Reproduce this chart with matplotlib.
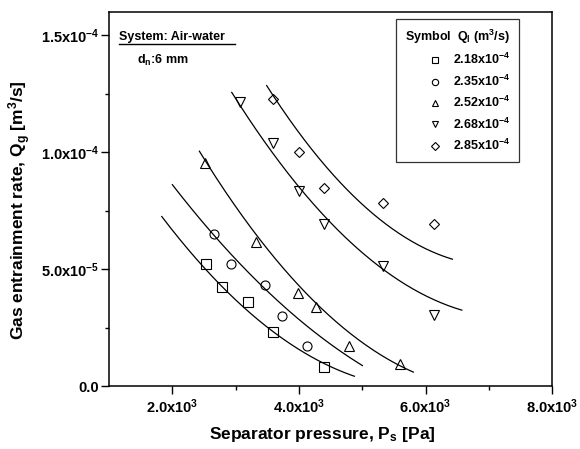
import numpy as np
import matplotlib
matplotlib.use('Agg')
import matplotlib.pyplot as plt
from matplotlib.ticker import FixedLocator, FixedFormatter

plt.rcParams['font.family'] = 'Liberation Sans'
plt.rcParams['font.weight'] = 'bold'
plt.rcParams['mathtext.fontset'] = 'custom'
plt.rcParams['mathtext.rm'] = 'Liberation Sans:bold'
plt.rcParams['mathtext.it'] = 'Liberation Sans:bold'
plt.rcParams['mathtext.bf'] = 'Liberation Sans:bold'
plt.rcParams['mathtext.default'] = 'rm'

# measured points: separator pressure [Pa] and gas entrainment rate [m3/s]
labels = ['2.18x10$^{-4}$', '2.35x10$^{-4}$', '2.52x10$^{-4}$', '2.68x10$^{-4}$', '2.85x10$^{-4}$']
markers = ['s', 'o', '^', 'v', 'D']

p_218 = [2528, 2790, 3191, 3596, 4397]
q_218 = [5.24e-5, 4.24e-5, 3.58e-5, 2.32e-5, 0.83e-5]
p_235 = [2654, 2927, 3464, 3728, 4128]
q_235 = [6.51e-5, 5.24e-5, 4.32e-5, 2.99e-5, 1.73e-5]
p_252 = [2517, 3322, 3991, 4265, 4796, 5597]
q_252 = [9.56e-5, 6.14e-5, 3.96e-5, 3.36e-5, 1.72e-5, 0.93e-5]
p_268 = [3070, 3596, 4002, 4397, 5333, 6139]
q_268 = [1.216e-4, 1.04e-4, 8.33e-5, 6.91e-5, 5.15e-5, 3.03e-5]
p_285 = [3596, 3997, 4401, 5333, 6139]
q_285 = [1.226e-4, 1.001e-4, 8.48e-5, 7.82e-5, 6.91e-5]

# points
fp_218 = [1833, 2790, 3596, 4017, 4875]
fq_218 = [7.25e-5, 4.24e-5, 2.32e-5, 1.53e-5, 0.42e-5]
fp_235 = [2000, 2174, 2652, 3460, 4017, 4175, 5002]
fq_235 = [8.63e-5, 7.94e-5, 6.51e-5, 4.32e-5, 2.67e-5, 2.40e-5, 0.93e-5]
fp_252 = [2427, 2527, 2937, 3159, 4017, 4175, 5597, 5807]
fq_252 = [1.012e-4, 9.52e-5, 7.94e-5, 7.08e-5, 4.22e-5, 3.79e-5, 0.98e-5, 0.50e-5]
fp_268 = [2938, 3057, 3859, 4002, 4175, 4465, 4833, 5333, 6071, 6572]
fq_268 = [1.259e-4, 1.216e-4, 8.94e-5, 8.30e-5, 7.87e-5, 7.08e-5, 6.22e-5, 5.12e-5, 3.86e-5, 3.12e-5]
fp_285 = [3490, 3859, 4175, 5387, 5859, 6424]
fq_285 = [1.309e-4, 1.123e-4, 9.94e-5, 7.08e-5, 6.22e-5, 5.27e-5]

points = [(p_218, q_218), (p_235, q_235), (p_252, q_252), (p_268, q_268), (p_285, q_285)]
curves = [(fp_218, fq_218), (fp_235, fq_235), (fp_252, fq_252), (fp_268, fq_268), (fp_285, fq_285)]

xticks = [2000, 4000, 6000, 8000]
xticklabels = ['2.0x10$^{3}$', '4.0x10$^{3}$', '6.0x10$^{3}$', '8.0x10$^{3}$']
yticks = [0, 5e-5, 1e-4, 1.5e-4]
yticklabels = ['0.0', '5.0x10$^{-5}$', '1.0x10$^{-4}$', '1.5x10$^{-4}$']

fig = plt.figure(figsize=(5.8, 4.49), dpi=100)
ax = fig.add_axes([0.188, 0.1403, 0.764, 0.833])

# smooth the read curve points with a quadratic fit
for fp, fq in curves:
    c = np.polyfit(fp, fq, 2)
    xs = np.linspace(fp[0], fp[-1], 200)
    ax.plot(xs, np.polyval(c, xs), color='black', lw=0.9)

handles = []
for (p, q), m, lab in zip(points, markers, labels):
    ms = 5.5 if m == 'D' else 6.5
    h, = ax.plot(p, q, linestyle='none', marker=m, markersize=ms, markerfacecolor='none',
                 markeredgecolor='black', markeredgewidth=0.8, label=lab)
    handles.append(h)

ax.set_xlim(1000, 8000)
ax.set_ylim(0, 1.6e-4)
ax.xaxis.set_major_locator(FixedLocator(xticks))
ax.xaxis.set_major_formatter(FixedFormatter(xticklabels))
ax.xaxis.set_minor_locator(FixedLocator([3000, 5000, 7000]))
ax.yaxis.set_major_locator(FixedLocator(yticks))
ax.yaxis.set_major_formatter(FixedFormatter(yticklabels))
ax.yaxis.set_minor_locator(FixedLocator([2.5e-5, 7.5e-5, 1.25e-4]))
ax.tick_params(which='major', direction='out', length=5.5, width=1, labelsize=10.5, pad=1.5)
ax.tick_params(axis='x', which='major', pad=3)
ax.tick_params(which='minor', direction='out', length=3.2, width=1)
for s in ax.spines.values():
    s.set_linewidth(1.1)

ax.set_xlabel('Separator pressure, P$_s$ [Pa]', fontsize=12.5, fontweight='bold')
ax.set_ylabel('Gas entrainment rate, Q$_g$ [m$^3$/s]', fontsize=12.5, fontweight='bold')
ax.xaxis.set_label_coords(0.481, -0.105)
ax.yaxis.set_label_coords(-0.172, 0.47)

ax.text(0.0226, 0.925, 'System: Air-water', transform=ax.transAxes, fontsize=9,
        fontweight='bold', va='baseline')
ax.plot([0.0226, 0.284], [0.914, 0.914], transform=ax.transAxes, color='black', lw=1)
ax.text(0.063, 0.862, 'd$_n$:6 mm', transform=ax.transAxes, fontsize=9,
        fontweight='bold', va='baseline')

leg = ax.legend(handles=handles, title='Symbol  Q$_l$ (m$^3$/s)', loc='upper left',
                bbox_to_anchor=(0.648, 0.981), fontsize=9, title_fontsize=9,
                markerscale=0.7, frameon=True, fancybox=False, edgecolor='black',
                handlelength=1.0, handletextpad=0.9, labelspacing=0.5,
                borderpad=0.7, borderaxespad=0, alignment='right')
leg.get_frame().set_linewidth(0.9)
leg.get_title().set_fontweight('bold')

fig.savefig('out.png', dpi=100)
